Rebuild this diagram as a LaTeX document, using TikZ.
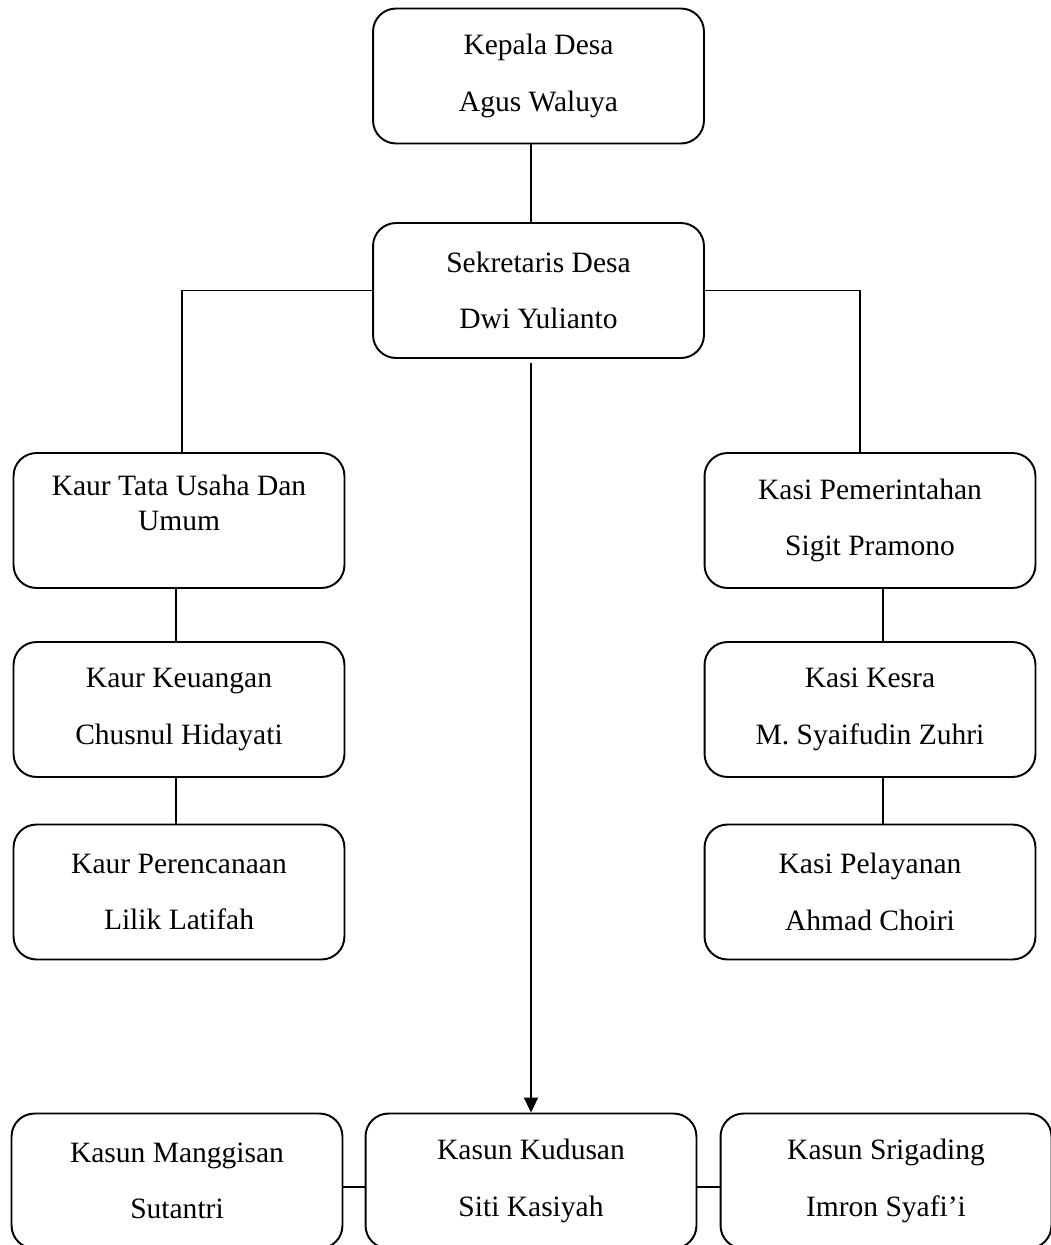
\documentclass[tikz,border=0pt]{standalone}
\usepackage{fontspec}
\setmainfont{Liberation Serif}
\usetikzlibrary{arrows.meta}

\tikzset{
  jabatan/.style={draw, line width=1.1pt, rounded corners=0.46cm, minimum width=6.62cm,
    minimum height=2.7cm, inner sep=0pt, align=center, font=\fontsize{16.8}{32}\selectfont},
  garis/.style={line width=1.1pt},
}

\begin{document}
\begin{tikzpicture}[x=0.02cm, y=-0.02cm]
    \useasboundingbox (0,0) rectangle (1051,1245);
    % pimpinan
    \node[jabatan] (kades) at (538.5,76) {Kepala Desa\\Agus Waluya};
    \node[jabatan] (sekdes) at (538.5,290.5) {Sekretaris Desa\\Dwi Yulianto};
    % kaur (kiri)
    \node[jabatan, font=\fontsize{16.8}{19.9}\selectfont] (kaurtu) at (179,520.5) {Kaur Tata Usaha Dan\\Umum\\\mbox{}};
    \node[jabatan] (kaurkeu) at (179,709.5) {Kaur Keuangan\\Chusnul Hidayati};
    \node[jabatan] (kaurren) at (179,892) {Kaur Perencanaan\\Lilik Latifah};
    % kasi (kanan)
    \node[jabatan] (kasipem) at (870,520.5) {Kasi Pemerintahan\\Sigit Pramono};
    \node[jabatan] (kasikesra) at (870,709.5) {Kasi Kesra\\M. Syaifudin Zuhri};
    \node[jabatan] (kasilayan) at (870,892) {Kasi Pelayanan\\Ahmad Choiri};
    % kasun (bawah)
    \node[jabatan] (kasunmg) at (177,1181) {Kasun Manggisan\\Sutantri};
    \node[jabatan] (kasunkd) at (531,1181) {Kasun Kudusan\\Siti Kasiyah};
    \node[jabatan] (kasunsg) at (886,1181) {Kasun Srigading\\Imron Syafi'i};

    \draw[garis] (kades.south -| kasunkd.north) -- (sekdes.north -| kasunkd.north);
    \draw[garis] (sekdes.west) -| ([xshift=0.06cm]kaurtu.north);
    \draw[garis] (sekdes.east) -| ([xshift=-0.2cm]kasipem.north);
    \draw[garis] ([xshift=-0.06cm]kaurtu.south) -- ([xshift=-0.06cm]kaurkeu.north);
    \draw[garis] ([xshift=-0.06cm]kaurkeu.south) -- ([xshift=-0.06cm]kaurren.north);
    \draw[garis] ([xshift=0.26cm]kasipem.south) -- ([xshift=0.26cm]kasikesra.north);
    \draw[garis] ([xshift=0.26cm]kasikesra.south) -- ([xshift=0.26cm]kasilayan.north);
    \draw[garis, -{Triangle[width=0.28cm, length=0.3cm]}] ([yshift=-0.08cm]sekdes.south -| kasunkd.north) -- (kasunkd.north);
    \draw[garis] ([yshift=-0.12cm]kasunmg.east) -- ([yshift=-0.12cm]kasunkd.west);
    \draw[garis] ([yshift=-0.12cm]kasunkd.east) -- ([yshift=-0.12cm]kasunsg.west);
\end{tikzpicture}
\end{document}
